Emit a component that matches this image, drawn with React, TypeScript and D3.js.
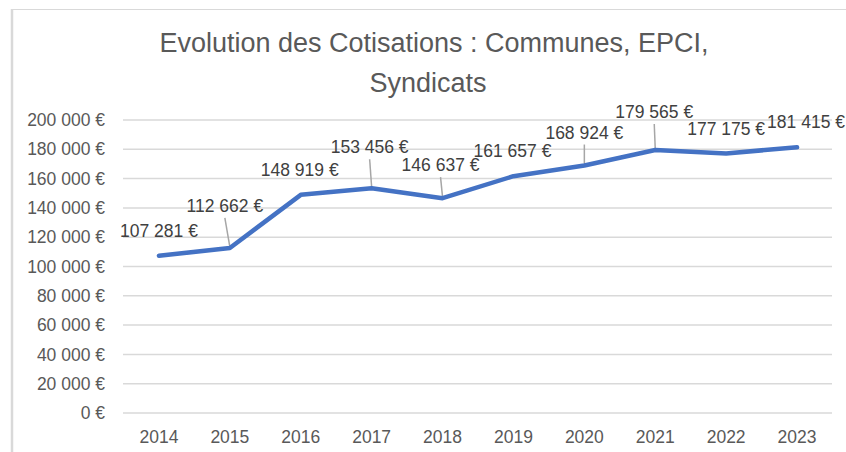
import React from 'react';
import * as d3 from 'd3';

const years = ['2014', '2015', '2016', '2017', '2018', '2019', '2020', '2021', '2022', '2023'];
const cotisations = [107281, 112662, 148919, 153456, 146637, 161657, 168924, 179565, 177175, 181415];
const yTicks = [0, 20000, 40000, 60000, 80000, 100000, 120000, 140000, 160000, 180000, 200000];
// label placement relative to the point (dx, dy), as laid out in the source
const labelOffsets = [
  [0, -25], [-5, -42], [-1, -25], [-2, -41], [-2, -33],
  [-1, -25], [0, -33], [-1, -38], [0, -25], [9, -25],
];

const W = 846;
const H = 452;
const FONT = '"Liberation Sans", Arial, sans-serif';

const fr = d3.formatLocale({ decimal: ',', thousands: '\u00a0', grouping: [3], currency: ['', ' €'] });
const fmt = (v: number) => fr.format(',.0f')(v) + ' €';

export default function App() {
  const x = d3.scaleBand().domain(years).range([123.5, 832.5]);
  const y = d3.scaleLinear().domain([0, 200000]).range([413, 120]);
  const cx = (yr: string) => (x(yr) as number) + x.bandwidth() / 2;

  const line = d3
    .line<number>()
    .x((_, i) => cx(years[i]))
    .y((d) => y(d));

  return (
    <svg
      width={W}
      height={H}
      style={{ position: 'absolute', left: 0, top: 0, background: '#fff' }}
    >
      {/* chart border (only top and left are visible) */}
      <line x1={12} y1={9} x2={12} y2={H} stroke="#d9d9d9" strokeWidth={2.5} />
      <line x1={12} y1={9.5} x2={W} y2={9.5} stroke="#d9d9d9" strokeWidth={1} />

      {/* title */}
      <text x={434} y={52} textAnchor="middle" fontFamily={FONT} fontSize={27} fill="#595959">
        Evolution des Cotisations : Communes, EPCI,
      </text>
      <text x={428} y={92} textAnchor="middle" fontFamily={FONT} fontSize={27} fill="#595959">
        Syndicats
      </text>

      {/* gridlines + y labels */}
      {yTicks.map((t) => (
        <g key={t}>
          <line x1={123} x2={832} y1={y(t)} y2={y(t)} stroke="#d9d9d9" strokeWidth={1.5} />
          <text
            x={105}
            y={y(t)}
            dy="0.35em"
            textAnchor="end"
            fontFamily={FONT}
            fontSize={17.5}
            fill="#595959"
          >
            {fmt(t)}
          </text>
        </g>
      ))}

      {/* x labels */}
      {years.map((yr) => (
        <text
          key={yr}
          x={cx(yr)}
          y={437}
          dy="0.35em"
          textAnchor="middle"
          fontFamily={FONT}
          fontSize={17.5}
          fill="#595959"
        >
          {yr}
        </text>
      ))}

      {/* leader lines */}
      {cotisations.map((v, i) => {
        const [dx, dy] = labelOffsets[i];
        if (dy > -30) return null;
        const px = cx(years[i]);
        const py = y(v);
        return (
          <line
            key={'l' + i}
            x1={px + dx}
            y1={py + dy + 12}
            x2={px}
            y2={py - 1}
            stroke="#a6a6a6"
            strokeWidth={1.5}
          />
        );
      })}

      {/* series */}
      <path
        d={line(cotisations) || ''}
        fill="none"
        stroke="#4472c4"
        strokeWidth={4.5}
        strokeLinejoin="round"
        strokeLinecap="round"
      />

      {/* data labels */}
      {cotisations.map((v, i) => {
        const [dx, dy] = labelOffsets[i];
        return (
          <text
            key={'t' + i}
            x={cx(years[i]) + dx}
            y={y(v) + dy}
            dy="0.35em"
            textAnchor="middle"
            fontFamily={FONT}
            fontSize={17.5}
            fill="#404040"
          >
            {fmt(v)}
          </text>
        );
      })}
    </svg>
  );
}
